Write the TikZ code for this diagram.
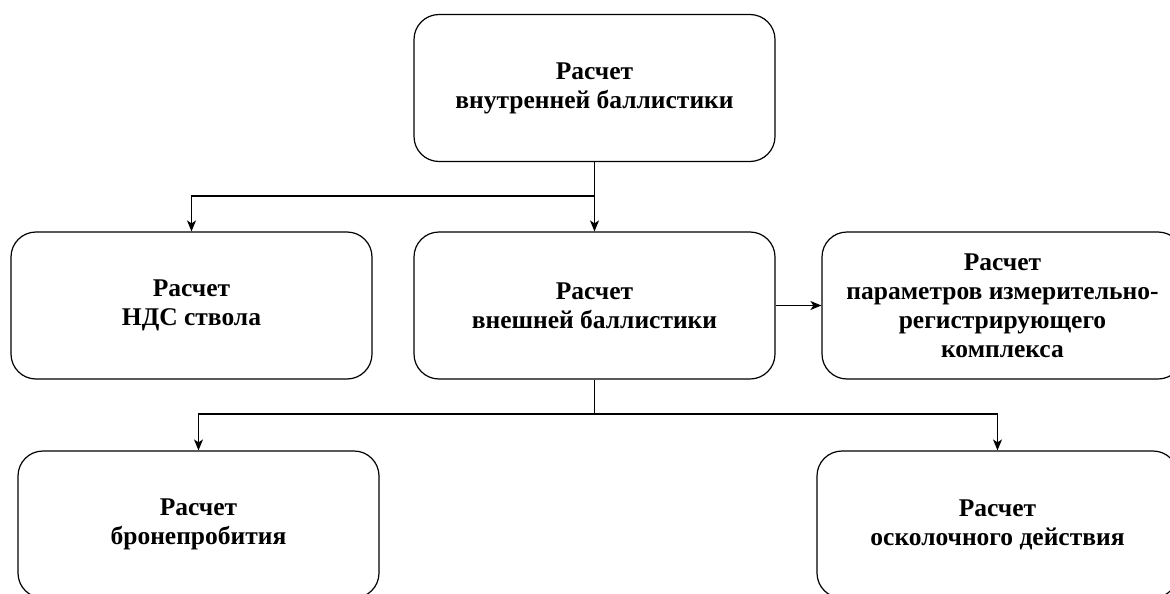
\documentclass[tikz,border=0pt]{standalone}
\usepackage{fontspec}
\setmainfont{Liberation Serif}
\usetikzlibrary{arrows.meta}
\begin{document}
\begin{tikzpicture}[x=1pt,y=-1pt,
  box/.style={draw,line width=1.2pt,rounded corners=25pt,minimum width=361pt,minimum height=147pt,
    align=center,font=\fontsize{25.5}{29}\selectfont\bfseries,inner sep=0pt},
  conn/.style={line width=1.3pt},
  arr/.style={conn,-{Stealth[length=11pt,width=9pt,inset=3pt]}}]
\useasboundingbox (0,0) rectangle (1170,594);
\clip (0,0) rectangle (1170,594);
\node[box] (top) at (594.5,88) {Расчет\\внутренней баллистики};
\node[box] (ml) at (191.5,305.5) {Расчет\\НДС ствола};
\node[box] (mc) at (594.5,305.5) {Расчет\\внешней баллистики};
\node[box] (mr) at (1002.5,305.5) {Расчет\\параметров измерительно-\\регистрирующего\\комплекса};
\node[box] (bl) at (198.5,524.5) {Расчет\\бронепробития};
\node[box] (br) at (997.5,524.5) {Расчет\\осколочного действия};
\coordinate (j1) at (594.5,196);
\coordinate (j2) at (594.5,414);
\draw[conn] (top.south) -- (j1);
\draw[arr] (j1) -| (ml.north);
\draw[arr] (j1) -- (mc.north);
\draw[arr] (mc.east) -- (mr.west);
\draw[conn] (mc.south) -- (j2);
\draw[arr] (j2) -| (bl.north);
\draw[arr] (j2) -| (br.north);
\end{tikzpicture}
\end{document}
